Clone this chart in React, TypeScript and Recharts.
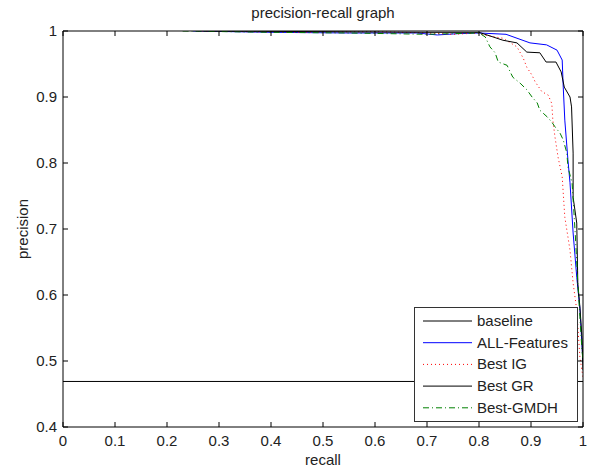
import React from "react";
import { LineChart, Line, XAxis, YAxis, Legend, Label } from "recharts";

// Precision / recall points for each feature set
const baselineRecall = [0, 1];
const baselinePrecision = [0.469, 0.469];

const allFeaturesRecall = [0.25, 0.4, 0.55, 0.68, 0.72, 0.76, 0.8, 0.852, 0.898, 0.93, 0.95, 0.96, 0.962, 0.965, 0.971, 0.975, 0.981, 0.988, 0.994, 1.0];
const allFeaturesPrecision = [1.0, 0.998, 0.997, 0.997, 0.994, 0.996, 0.997, 0.995, 0.982, 0.979, 0.971, 0.956, 0.915, 0.865, 0.805, 0.77, 0.694, 0.627, 0.58, 0.497];

const bestIGRecall = [0.26, 0.45, 0.6, 0.7, 0.75, 0.8, 0.808, 0.846, 0.873, 0.885, 0.892, 0.902, 0.908, 0.921, 0.933, 0.94, 0.942, 0.946, 0.952, 0.96, 0.965, 0.975, 0.981, 0.988, 0.994, 1.0];
const bestIGPrecision = [1.0, 0.998, 0.999, 0.997, 0.995, 0.997, 0.994, 0.989, 0.976, 0.959, 0.945, 0.933, 0.923, 0.908, 0.903, 0.89, 0.865, 0.84, 0.809, 0.779, 0.718, 0.668, 0.618, 0.577, 0.506, 0.475];

const bestGRRecall = [0.27, 0.5, 0.7, 0.8, 0.827, 0.846, 0.873, 0.892, 0.917, 0.929, 0.948, 0.958, 0.964, 0.975, 0.978, 0.981, 0.981, 0.988, 0.99, 0.994, 0.998, 1.0];
const bestGRPrecision = [1.0, 0.999, 0.998, 0.998, 0.991, 0.986, 0.982, 0.968, 0.967, 0.953, 0.953, 0.938, 0.915, 0.9, 0.885, 0.815, 0.748, 0.709, 0.618, 0.582, 0.536, 0.486];

const bestGMDHRecall = [0.23, 0.4, 0.55, 0.7, 0.75, 0.8, 0.812, 0.821, 0.831, 0.837, 0.854, 0.86, 0.865, 0.879, 0.892, 0.902, 0.912, 0.917, 0.931, 0.94, 0.946, 0.956, 0.962, 0.969, 0.971, 0.979, 0.985, 0.99, 0.994, 0.998, 1.0];
const bestGMDHPrecision = [1.0, 0.998, 0.997, 0.995, 0.996, 0.997, 0.991, 0.976, 0.967, 0.953, 0.948, 0.938, 0.93, 0.921, 0.911, 0.9, 0.891, 0.88, 0.87, 0.862, 0.855, 0.845, 0.835, 0.815, 0.794, 0.77, 0.694, 0.618, 0.567, 0.517, 0.5];

const xTicks = [0, 0.1, 0.2, 0.3, 0.4, 0.5, 0.6, 0.7, 0.8, 0.9, 1];
const yTicks = [0.4, 0.5, 0.6, 0.7, 0.8, 0.9, 1];

const seriesNames = ["baseline", "ALL-Features", "Best IG", "Best GR", "Best-GMDH"];
const seriesColors = ["#000000", "#0000ff", "#ff0000", "#000000", "#008000"];
const seriesDashes = [undefined, undefined, "1 3", undefined, "6 3 1 3"];

const toPoints = (r: number[], p: number[]) => r.map((v, i) => ({ r: v, p: p[i] }));

const series = [
  toPoints(baselineRecall, baselinePrecision),
  toPoints(allFeaturesRecall, allFeaturesPrecision),
  toPoints(bestIGRecall, bestIGPrecision),
  toPoints(bestGRRecall, bestGRPrecision),
  toPoints(bestGMDHRecall, bestGMDHPrecision),
];

const FONT = "'Liberation Sans', Arial, sans-serif";
const TEXT = "#222";
const TICK_LEN = 5;

// Inward-pointing ticks (box style axes), label drawn outside the box
const BottomTick = ({ x, y, payload }: any) => (
  <g>
    <line x1={x} x2={x} y1={y} y2={y - TICK_LEN} stroke="#000" />
    <text x={x} y={y + 19} textAnchor="middle" fontFamily={FONT} fontSize={15} fill={TEXT}>
      {String(payload.value)}
    </text>
  </g>
);

const LeftTick = ({ x, y, payload }: any) => (
  <g>
    <line x1={x} x2={x + TICK_LEN} y1={y} y2={y} stroke="#000" />
    <text x={x - 6} y={y + 5} textAnchor="end" fontFamily={FONT} fontSize={15} fill={TEXT}>
      {String(payload.value)}
    </text>
  </g>
);

const TopTick = ({ x, y }: any) => (
  <line x1={x} x2={x} y1={y} y2={y + TICK_LEN} stroke="#000" />
);

const RightTick = ({ x, y }: any) => (
  <line x1={x} x2={x - TICK_LEN} y1={y} y2={y} stroke="#000" />
);

const LegendBox = () => (
  <div
    style={{
      width: 164,
      height: 115,
      boxSizing: "border-box",
      border: "1px solid #333",
      background: "#fff",
      fontFamily: FONT,
      fontSize: 15,
      color: TEXT,
    }}
  >
    <svg width={162} height={113}>
      {seriesNames.map((name, i) => {
        const cy = 13 + i * 21.7;
        return (
          <g key={name}>
            <line
              x1={8}
              x2={57}
              y1={cy}
              y2={cy}
              stroke={seriesColors[i]}
              strokeWidth={1}
              strokeDasharray={seriesDashes[i]}
            />
            <text x={62} y={cy + 5} fontFamily={FONT} fontSize={15} fill={TEXT}>
              {name}
            </text>
          </g>
        );
      })}
    </svg>
  </div>
);

export default function App() {
  return (
    <div style={{ position: "absolute", left: 0, top: 0, background: "#fff" }}>
      <LineChart width={589} height={469} margin={{ top: 30, right: 5, bottom: 0, left: 0 }}>
        <XAxis
          dataKey="r"
          type="number"
          domain={[0, 1]}
          ticks={xTicks}
          allowDataOverflow
          height={42}
          tickSize={0}
          tickMargin={0}
          tickLine={false}
          tick={<BottomTick />}
          stroke="#000"
        >
          <Label
            content={({ viewBox }: any) => (
              <text
                x={viewBox.x + viewBox.width / 2}
                y={viewBox.y + 38}
                textAnchor="middle"
                fontFamily={FONT}
                fontSize={15}
                fill={TEXT}
              >
                recall
              </text>
            )}
          />
        </XAxis>
        <XAxis
          xAxisId="top"
          orientation="top"
          dataKey="r"
          type="number"
          domain={[0, 1]}
          ticks={xTicks}
          allowDataOverflow
          height={1}
          tickSize={0}
          tickMargin={0}
          tickLine={false}
          tick={<TopTick />}
          stroke="#000"
        >
          <Label
            content={({ viewBox }: any) => (
              <text
                x={viewBox.x + viewBox.width / 2}
                y={viewBox.y - 12}
                textAnchor="middle"
                fontFamily={FONT}
                fontSize={15}
                fill={TEXT}
              >
                precision-recall graph
              </text>
            )}
          />
        </XAxis>
        <YAxis
          dataKey="p"
          type="number"
          domain={[0.4, 1]}
          ticks={yTicks}
          allowDataOverflow
          width={63}
          tickSize={0}
          tickMargin={0}
          tickLine={false}
          tick={<LeftTick />}
          stroke="#000"
        >
          <Label
            content={({ viewBox }: any) => {
              const cx = viewBox.x + 22;
              const cy = viewBox.y + viewBox.height / 2;
              return (
                <text
                  x={cx}
                  y={cy}
                  transform={`rotate(-90 ${cx} ${cy})`}
                  textAnchor="middle"
                  dominantBaseline="central"
                  fontFamily={FONT}
                  fontSize={15}
                  fill={TEXT}
                >
                  precision
                </text>
              );
            }}
          />
        </YAxis>
        <YAxis
          yAxisId="right"
          orientation="right"
          dataKey="p"
          type="number"
          domain={[0.4, 1]}
          ticks={yTicks}
          allowDataOverflow
          width={1}
          tickSize={0}
          tickMargin={0}
          tickLine={false}
          tick={<RightTick />}
          stroke="#000"
        />
        {series.map((pts, i) => (
          <Line
            key={seriesNames[i]}
            data={pts}
            dataKey="p"
            xAxisId={i === 0 ? "top" : 0}
            yAxisId={i === 0 ? "right" : 0}
            type="linear"
            stroke={seriesColors[i]}
            strokeWidth={1}
            strokeDasharray={seriesDashes[i]}
            dot={false}
            activeDot={false}
            isAnimationActive={false}
          />
        ))}
        <Legend
          layout="vertical"
          align="center"
          verticalAlign="middle"
          content={() => <LegendBox />}
          wrapperStyle={{ position: "absolute", left: 414, top: 307, width: 164, height: 115 }}
        />
      </LineChart>
    </div>
  );
}
